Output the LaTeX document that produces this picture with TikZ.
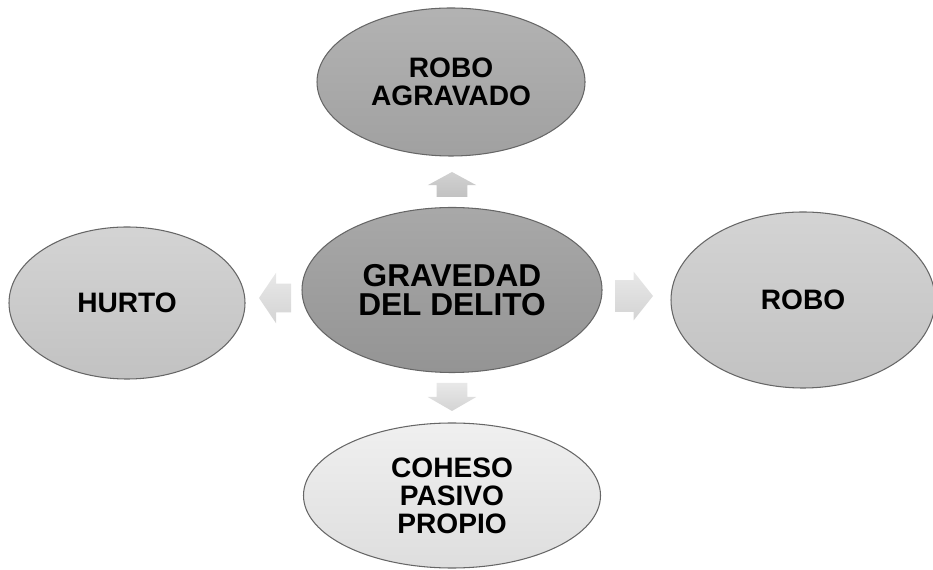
\documentclass[tikz,border=0pt]{standalone}
\usepackage{fontspec}
\setmainfont{Liberation Sans}
\usetikzlibrary{shapes.geometric,shapes.arrows}

\tikzset{
    oval/.style={ellipse, draw=black!60, line width=0.6pt, inner sep=0pt, outer sep=0pt,
        align=center, font=\fontsize{16}{16}\selectfont\bfseries},
    blockarrow/.style={single arrow, draw=none, inner xsep=0pt, outer sep=0pt,
        minimum width=0pt, top color=black!9, bottom color=black!17},
}

\begin{document}
\begin{tikzpicture}[]
        \useasboundingbox (0,0) rectangle (18.66,11.38);

        % Ovals
        \node[oval, minimum width=5.36cm, minimum height=2.96cm, top color=black!30, bottom color=black!37]
            (agravado) at (9.02,9.74) {ROBO\\AGRAVADO};
        \node[oval, minimum width=6.0cm, minimum height=3.3cm, top color=black!34, bottom color=black!42,
            font=\fontsize{18}{16.5}\selectfont\bfseries]
            (gravedad) at (9.04,5.58) {GRAVEDAD\\DEL DELITO};
        \node[oval, minimum width=4.72cm, minimum height=3.04cm, top color=black!17, bottom color=black!24]
            (hurto) at (2.54,5.32) {HURTO};
        \node[oval, minimum width=5.28cm, minimum height=3.52cm, top color=black!17, bottom color=black!24]
            (robo) at (16.06,5.38) {ROBO};
        \node[oval, minimum width=5.94cm, minimum height=2.9cm, top color=black!6, bottom color=black!13]
            (coheso) at (9.04,1.47) {COHESO\\PASIVO\\PROPIO};

        % Arrows
        \node[blockarrow, anchor=tail, rotate=90, inner ysep=0.3cm, minimum height=0.5cm,
            single arrow head extend=0.18cm, single arrow tip angle=123, top color=black!18, bottom color=black!24]
            (up) at (9.04,7.44) {};
        \node[blockarrow, anchor=tail, rotate=-90, inner ysep=0.3cm, minimum height=0.56cm,
            single arrow head extend=0.18cm, single arrow tip angle=120]
            (down) at (9.04,3.72) {};
        \node[blockarrow, anchor=tail, inner ysep=0.31cm, minimum height=0.76cm,
            single arrow head extend=0.17cm, single arrow tip angle=103]
            (right) at (12.3,5.46) {};
        \node[blockarrow, anchor=tail, rotate=180, inner ysep=0.28cm, minimum height=0.64cm,
            single arrow head extend=0.22cm, single arrow tip angle=112]
            (left) at (5.82,5.42) {};

    \end{tikzpicture}
\end{document}
